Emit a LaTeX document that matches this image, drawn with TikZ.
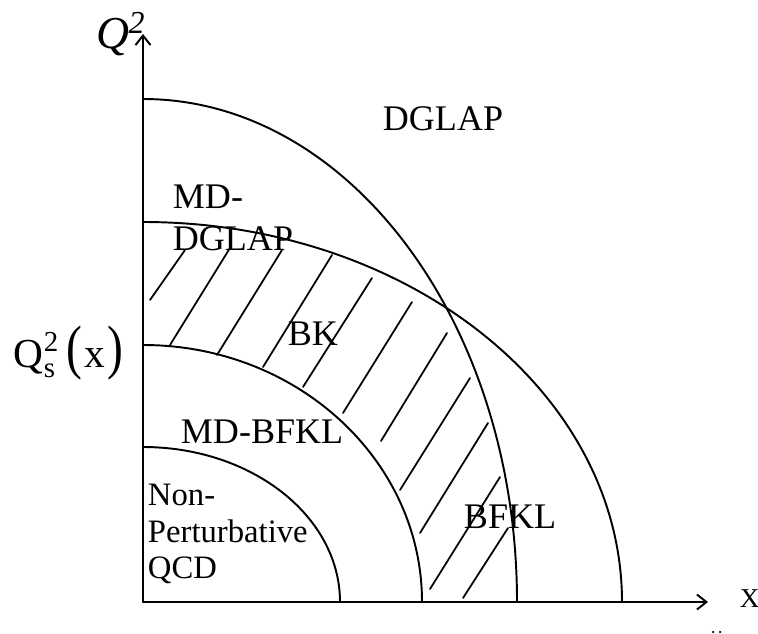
\documentclass[tikz,border=0pt]{standalone}
\usepackage{fontspec}
\setmainfont{Liberation Serif}
\usepackage{amsmath}
\usepackage{graphicx}
\usetikzlibrary{arrows.meta}

\begin{document}
\begin{tikzpicture}[>={Straight Barb[length=1.9mm,width=3mm]}, line cap=round, line width=1.1pt,
  lbl/.style={font=\fontsize{20.5}{24}\selectfont, inner sep=0pt, anchor=base west},
  lblsmall/.style={font=\fontsize{18.6}{21}\selectfont, inner sep=0pt, anchor=base west},
  hatch/.style={line width=1pt}]
\useasboundingbox (-2.86,-0.62) rectangle (12.30,12.04);
% 坐标轴
\coordinate (O) at (0,0);
\coordinate (ytip) at (0,11.36);
\coordinate (xtip) at (11.30,0);
\draw[->] (O) -- (ytip);
\draw[->] (O) -- (xtip);
\node[inner sep=0pt, anchor=base west, font=\fontsize{26}{30}\selectfont] (qsq) at (-0.94,11.06) {\textit{Q}\kern-0.03em\textsuperscript{\itshape 2}};
\node[inner sep=0pt, anchor=base west, font=\fontsize{15.5}{18}\selectfont] (xlab) at (11.92,-0.10) {X};
\node[inner sep=0pt, anchor=base west, font=\fontsize{23.5}{26}\selectfont] (qsat) at (-2.60,4.70)
  {Q$_{\text{s}}^{\text{2}}$\kern0.18em\scalebox{1.15}[1.45]{(}\kern0.04em x\kern0.08em\scalebox{1.15}[1.45]{)}};
% 各区域边界（四分之一椭圆）
\draw (3.94,0) arc (0:90:3.94 and 3.10);
\draw (5.58,0) arc (0:90:5.58 and 5.14);
\draw (9.58,0) arc (0:90:9.58 and 7.60);
\draw (7.48,0) arc (0:90:7.48 and 10.06);
% BK 区的斜线
\draw[hatch] (0.14,6.04) -- (0.84,7.04);
\draw[hatch] (0.54,5.14) -- (1.74,7.08);
\draw[hatch] (1.48,4.94) -- (2.78,7.04);
\draw[hatch] (2.40,4.70) -- (3.78,6.94);
\draw[hatch] (3.20,4.30) -- (4.58,6.48);
\draw[hatch] (4.00,3.78) -- (5.38,6.00);
\draw[hatch] (4.76,3.22) -- (6.08,5.38);
\draw[hatch] (5.14,2.24) -- (6.54,4.48);
\draw[hatch] (5.54,1.38) -- (6.90,3.58);
\draw[hatch] (5.74,0.26) -- (7.14,2.50);
\draw[hatch] (6.40,0.08) -- (7.30,1.48);
% 区域名称
\node[lbl] (dglap) at (4.78,9.44) {DGLAP};
\node[lbl] (mdA) at (0.58,7.88) {MD-};
\node[lbl] (mdB) at (0.58,7.04) {DGLAP};
\node[lbl] (bk) at (2.88,5.14) {BK};
\node[lbl] (mdbfkl) at (0.74,3.18) {MD-BFKL};
\node[lbl] (bfkl) at (6.40,1.48) {BFKL};
\node[lblsmall] (npA) at (0.08,1.94) {Non-};
\node[lblsmall] (npB) at (0.08,1.20) {Perturbative};
\node[lblsmall] (npC) at (0.08,0.48) {QCD};
% 右下角残点
\fill (11.40,-0.60) circle (0.025);
\fill (11.54,-0.60) circle (0.025);
\end{tikzpicture}
\end{document}
